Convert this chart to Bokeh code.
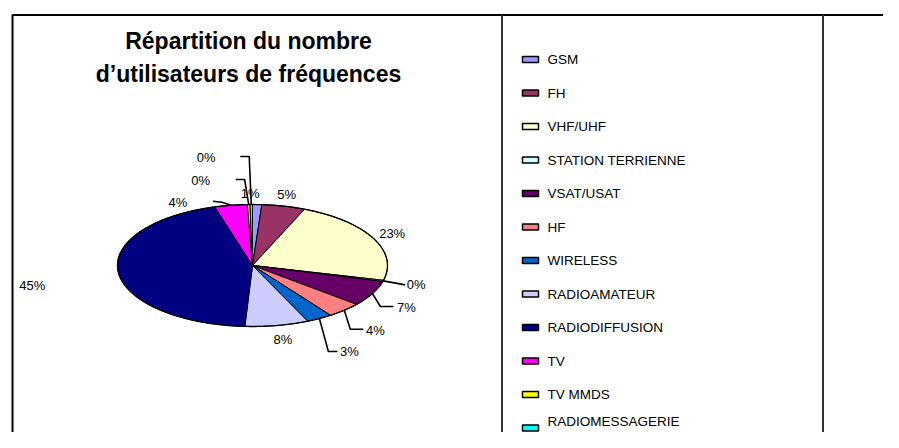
import numpy as np
from bokeh.plotting import figure
from bokeh.models import Range1d
from bokeh.embed import file_html
from bokeh.resources import INLINE
from bokeh.core.properties import value

# ---------------- data ----------------
categories = ["GSM", "FH", "VHF/UHF", "STATION TERRIENNE", "VSAT/USAT", "HF",
              "WIRELESS", "RADIOAMATEUR", "RADIODIFFUSION", "TV", "TV MMDS",
              "RADIOMESSAGERIE"]
shares = [1.1, 5.2, 22.6, 0.3, 6.8, 4.2, 3.1, 7.6, 44.6, 3.9, 0.3, 0.3]
colors = ["#9999FF", "#993366", "#FFFFCC", "#CCFFFF", "#660066", "#FF8080",
          "#0066CC", "#CCCCFF", "#000080", "#FF00FF", "#FFFF00", "#00FFFF"]
title_lines = ["Répartition du nombre", "d’utilisateurs de fréquences"]

# ---------------- layout (pixels) ----------------
FONT = value("Liberation Sans")
CX, CY, RX, RY = 252, 265, 135, 61
# label offset from slice edge point, and leader elbow points (relative)
label_layout = {
    "GSM": dict(off=(-7, -11)),
    "FH": dict(off=(3, -12)),
    "VHF/UHF": dict(off=(19, -5)),
    "STATION TERRIENNE": dict(off=(33, 4), leader=[(22, 4)]),
    "VSAT/USAT": dict(off=(34, 14), leader=[(8, 13), (21, 13)]),
    "HF": dict(off=(31, 20), leader=[(6, 19), (19, 19)]),
    "WIRELESS": dict(off=(30, 33), leader=[(9, 33), (18, 33)]),
    "RADIOAMATEUR": dict(off=(6, 14)),
    "RADIODIFFUSION": dict(off=(-86, 13)),
    "TV": dict(off=(-53, -3), leader=[(-9, -3), (-18, -4)]),
    "TV MMDS": dict(off=(-48, -24), leader=[(-4, -25), (-13, -25)]),
    "RADIOMESSAGERIE": dict(off=(-45, -47), leader=[(-2, -48), (-11, -48)]),
}

p = figure(width=883, height=432, output_backend="svg", toolbar_location=None,
           x_range=Range1d(0, 883), y_range=Range1d(432, 0),
           min_border=0, outline_line_color=None, background_fill_color="white")
p.axis.visible = False
p.grid.visible = False

# outer frame (left and top edges visible)
p.line([12, 12, 900], [470, 14.5, 14.5], line_color="black", line_width=2)
# legend frame
p.line([501.5, 501.5], [14.5, 470], line_color="#333333", line_width=2)
p.line([822.5, 822.5], [14.5, 470], line_color="#333333", line_width=2)

# title
p.text(x=[248, 248], y=[40.7, 73], text=title_lines, text_font=FONT,
       text_font_size="23px", text_font_style="bold", text_align="center",
       text_baseline="alphabetic", text_color="black")

# pie slices (tilted ellipse)
total = float(sum(shares))
fr = np.array(shares) / total
ends = np.cumsum(fr)
starts = ends - fr
xs, ys = [], []
for a0, a1 in zip(starts, ends):
    n = max(3, int((a1 - a0) * 500) + 2)
    t = np.linspace(a0, a1, n) * 2 * np.pi
    xs.append([CX] + list(CX + RX * np.sin(t)))
    ys.append([CY] + list(CY - RY * np.cos(t)))
p.patches(xs, ys, fill_color=colors, line_color="black", line_width=1)
tt = np.linspace(0, 2 * np.pi, 400)
p.line(CX + RX * np.sin(tt), CY - RY * np.cos(tt), line_color="black", line_width=1.3)

# labels and leaders
lx, ly, lt = [], [], []
for cat, a0, a1, v in zip(categories, starts, ends, shares):
    mid = (a0 + a1) / 2 * 2 * np.pi
    px, py = CX + RX * np.sin(mid), CY - RY * np.cos(mid)
    lay = label_layout[cat]
    lx.append(px + lay["off"][0])
    ly.append(py + lay["off"][1])
    lt.append(f"{round(v / total * 100):.0f}%")
    if "leader" in lay:
        pts = [(px, py)] + [(px + dx, py + dy) for dx, dy in lay["leader"]]
        p.line([q[0] for q in pts], [q[1] for q in pts], line_color="black", line_width=1.6)
p.text(x=lx, y=ly, text=lt, text_font=FONT, text_font_size="13px",
       text_align="center", text_baseline="middle", text_color="black")

# legend
leg_y = [59 + i * 33.5 for i in range(len(categories))]
txt_y = list(leg_y)
txt_y[-1] -= 7
p.rect(x=[530] * len(categories), y=leg_y, width=16, height=6,
       fill_color=colors, line_color="black", line_width=1.5)
p.text(x=[547] * len(categories), y=txt_y, text=categories, text_font=FONT,
       text_font_size="13.5px", text_align="left", text_baseline="middle",
       text_color="black")

open("out.html", "w").write(file_html(p, INLINE))
